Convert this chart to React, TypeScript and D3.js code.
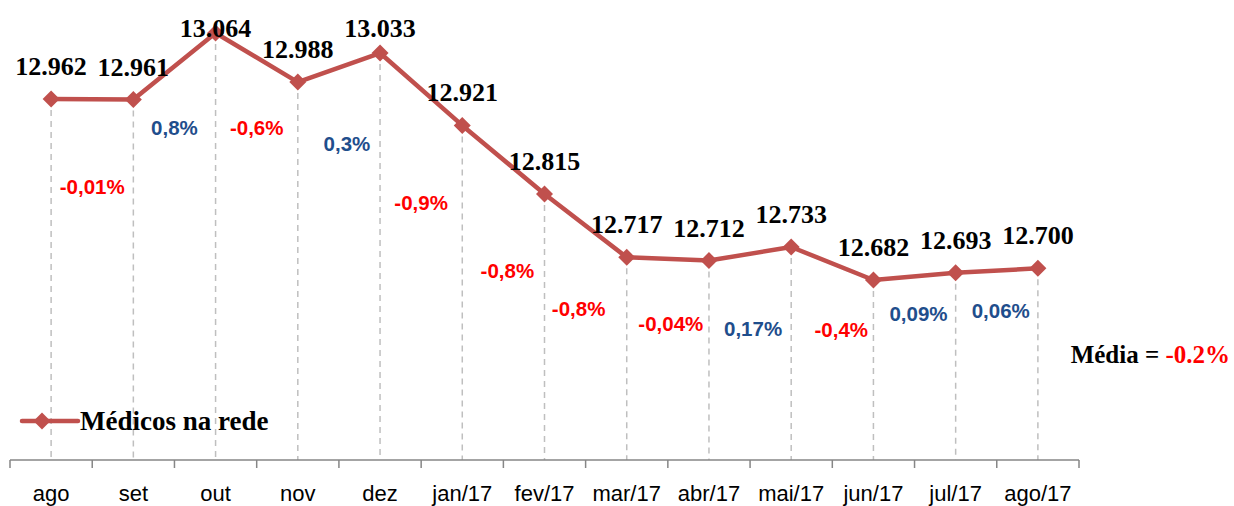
import React from "react";
import * as d3 from "d3";

const categories = ["ago", "set", "out", "nov", "dez", "jan/17", "fev/17", "mar/17", "abr/17", "mai/17", "jun/17", "jul/17", "ago/17"];
const values = [12962, 12961, 13064, 12988, 13033, 12921, 12815, 12717, 12712, 12733, 12682, 12693, 12700];
const valueLabels = ["12.962", "12.961", "13.064", "12.988", "13.033", "12.921", "12.815", "12.717", "12.712", "12.733", "12.682", "12.693", "12.700"];
const changeLabels = ["-0,01%", "0,8%", "-0,6%", "0,3%", "-0,9%", "-0,8%", "-0,8%", "-0,04%", "0,17%", "-0,4%", "0,09%", "0,06%"];
const seriesName = "Médicos na rede";
const averageLabel = "Média = ";
const averageValue = "-0.2%";

// annotation layout (pixels below the segment midpoint)
const changeLabelDrop = [88, 62, 70, 76, 114, 111, 83, 65, 75, 67, 38, 40];
const changeLabelShift = [0, 0, 0, 8, 0, 4, -7, 3, 3, 9, 4, 4];

const W = 1234;
const H = 506;
const RED = "#FF0000";
const BLUE = "#1F4E8C";
const LINE = "#C0504D";

export default function App() {
  const x = d3.scaleBand<string>().domain(categories).range([10, 1079]);
  const y = d3.scaleLinear().domain([12400, 13100]).range([462.3, 9.7]);
  const cx = (i: number) => (x(categories[i]) as number) + x.bandwidth() / 2;
  const line = d3.line<number>().x((_, i) => cx(i)).y((d) => y(d));
  const diamond = (px: number, py: number, r: number) =>
    `M${px},${py - r}L${px + r},${py}L${px},${py + r}L${px - r},${py}Z`;
  const ticks = [...categories.map((c) => x(c) as number), 1079];
  const serif = "'Liberation Serif', serif";
  const sans = "'Liberation Sans', sans-serif";
  const axisY = 460;

  return (
    <svg width={W} height={H} style={{ position: "absolute", left: 0, top: 0, background: "#fff" }}>
      {/* drop lines */}
      {values.map((v, i) => (
        <line key={"d" + i} x1={cx(i)} x2={cx(i)} y1={y(v)} y2={axisY}
          stroke="#BFBFBF" strokeWidth={1.5} strokeDasharray="6,5" />
      ))}
      {/* axis */}
      <line x1={10} x2={1079} y1={axisY} y2={axisY} stroke="#868686" strokeWidth={1.5} />
      {ticks.map((t, i) => (
        <line key={"t" + i} x1={t} x2={t} y1={axisY} y2={axisY + 8} stroke="#868686" strokeWidth={1.5} />
      ))}
      {categories.map((c, i) => (
        <text key={"c" + i} x={cx(i)} y={501} textAnchor="middle" fontFamily={sans} fontSize={22} fill="#000">{c}</text>
      ))}
      {/* series */}
      <path d={line(values) as string} fill="none" stroke={LINE} strokeWidth={4.5} strokeLinejoin="round" />
      {values.map((v, i) => (
        <path key={"m" + i} d={diamond(cx(i), y(v), 8.5)} fill={LINE} />
      ))}
      {values.map((v, i) => (
        <text key={"v" + i} x={cx(i)} y={Math.max(y(v) - 24, 37)} textAnchor="middle"
          fontFamily={serif} fontWeight="bold" fontSize={26} fill="#000">{valueLabels[i]}</text>
      ))}
      {changeLabels.map((l, i) => {
        const mx = (cx(i) + cx(i + 1)) / 2 + changeLabelShift[i];
        const my = (y(values[i]) + y(values[i + 1])) / 2 + changeLabelDrop[i];
        return (
          <text key={"p" + i} x={mx} y={my + 7} textAnchor="middle" fontFamily={sans} fontWeight="bold"
            fontSize={20.5} fill={l.startsWith("-") ? RED : BLUE}>{l}</text>
        );
      })}
      {/* average */}
      <text x={1230} y={363} textAnchor="end" fontFamily={serif} fontWeight="bold" fontSize={25}>
        <tspan fill="#000">{averageLabel}</tspan>
        <tspan fill={RED}>{averageValue}</tspan>
      </text>
      {/* legend */}
      <line x1={22} x2={78} y1={421} y2={421} stroke={LINE} strokeWidth={4.5} strokeLinecap="round" />
      <path d={diamond(42, 421, 8.5)} fill={LINE} />
      <text x={80} y={430} fontFamily={serif} fontWeight="bold" fontSize={27} fill="#000">{seriesName}</text>
    </svg>
  );
}
